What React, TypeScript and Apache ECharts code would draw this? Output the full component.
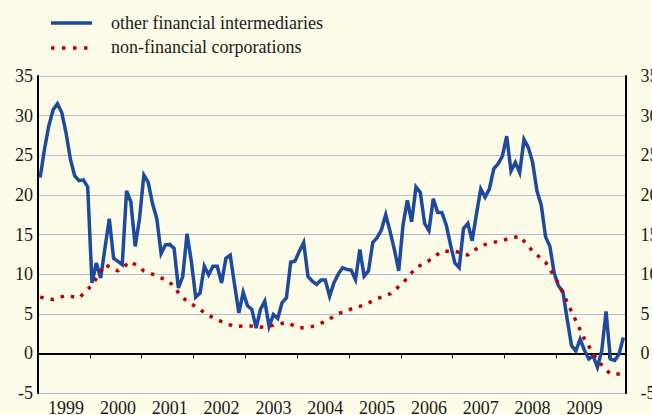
import React, { useEffect, useRef } from "react";
import * as echarts from "echarts";

// Annual growth rates, percentages; monthly from Jan 1999 to Apr 2010
const years = ["1999", "2000", "2001", "2002", "2003", "2004", "2005", "2006", "2007", "2008", "2009", "2010"];
const monthsInLastYear = 4;

const otherFinancialIntermediaries = [
  22.2, 25.75, 28.7, 30.75, 31.5, 30.4, 27.8, 24.5, 22.4, 21.8, 21.9, 21.0,
  8.9, 11.4, 9.5, 13.25, 17.0, 12.0, 11.6, 11.2, 20.5, 19.1, 13.5, 17.0,
  22.5, 21.6, 18.9, 17.0, 12.6, 13.7, 13.75, 13.25, 8.25, 9.7, 15.1, 11.6,
  7.1, 7.6, 11.0, 9.9, 11.0, 11.0, 8.9, 12.0, 12.4, 8.7, 5.1, 7.7,
  6.0, 5.55, 3.2, 5.55, 6.6, 3.4, 4.9, 4.4, 6.4, 7.0, 11.5, 11.65,
  12.9, 14.0, 9.7, 9.1, 8.7, 9.25, 9.25, 7.2, 8.9, 10.0, 10.8, 10.6,
  10.5, 9.3, 13.1, 9.75, 10.4, 14.0, 14.6, 15.6, 17.5, 15.4, 13.1, 10.4,
  16.2, 19.3, 16.6, 21.0, 20.3, 16.4, 15.5, 19.5, 17.8, 17.75, 16.2, 13.7,
  11.4, 10.8, 15.75, 16.4, 14.2, 17.6, 20.75, 19.7, 20.75, 23.3, 23.9, 24.9,
  27.4, 23.0, 24.1, 22.8, 27.0, 26.0, 24.1, 20.5, 18.7, 14.7, 13.5, 10.1,
  8.5, 7.8, 4.3, 1.0, 0.3, 1.8, 0.4, -0.7, -0.3, -1.75, 0.3, 5.3,
  -0.7, -0.9, -0.1, 2.0,
];

// quarterly readings (every third month starting Jan 1999)
const nonFinancialCorporations = [
  7.1, 6.8, 7.3, 7.0, 8.6, 11.2, 10.4, 11.6, 10.4, 9.8, 9.0, 7.0,
  5.9, 4.8, 4.0, 3.4, 3.5, 3.3, 3.55, 3.9, 3.2, 3.4, 4.0, 5.0,
  5.6, 6.1, 6.9, 7.5, 8.9, 10.8, 11.7, 12.9, 12.9, 12.4, 13.6, 14.0,
  14.4, 14.8, 12.9, 11.5, 8.8, 5.3, 1.8, -0.9, -2.6, -2.6,
];

const yMin = -5;
const yMax = 35;
const yStep = 5;

const seriesNames = ["other financial intermediaries", "non-financial corporations"];

const FONT = '"Liberation Serif", "Times New Roman", serif';
const TEXT = "#1a1a1a";
const BLUE = "#1d4a9e";
const RED = "#c00000";

export default function App() {
  const ref = useRef<HTMLDivElement>(null);

  useEffect(() => {
    document.body.style.margin = "0";
    const months: string[] = [];
    years.forEach((y, yi) => {
      const n = yi === years.length - 1 ? monthsInLastYear : 12;
      for (let m = 1; m <= n; m++) months.push(`${y}-${m < 10 ? "0" + m : m}`);
    });
    const nfcMonthly: (number | null)[] = months.map(() => null);
    nonFinancialCorporations.forEach((v, q) => {
      if (q * 3 < nfcMonthly.length) nfcMonthly[q * 3] = v;
    });

    const chart = echarts.init(ref.current!, null, { renderer: "svg" });
    const yAxisCommon = {
      type: "value",
      min: yMin,
      max: yMax,
      interval: yStep,
      axisTick: { show: false },
      axisLine: { show: true, lineStyle: { color: "#000", width: 2 } },
      axisLabel: { color: TEXT, fontFamily: FONT, fontSize: 18 },
    };
    chart.setOption({
      animation: false,
      backgroundColor: "#fdfce8",
      grid: { left: 38, right: 26.5, top: 76, bottom: 22, containLabel: false, outerBoundsMode: "none" },
      xAxis: {
        type: "category",
        data: months,
        boundaryGap: true,
        axisLine: { show: true, lineStyle: { color: "#000", width: 2 } },
        axisTick: {
          show: true,
          length: 5,
          lineStyle: { color: "#000", width: 1 },
          interval: (idx: number) => idx % 12 === 0,
        },
        axisLabel: {
          show: true,
          color: TEXT,
          fontFamily: FONT,
          fontSize: 18,
          margin: 6,
          interval: (idx: number) => idx % 12 === 6,
          formatter: (v: string) => v.slice(0, 4),
        },
        splitLine: { show: false },
      },
      yAxis: [
        {
          ...yAxisCommon,
          position: "left",
          axisLabel: { ...yAxisCommon.axisLabel, margin: 5 },
          splitLine: { show: true, lineStyle: { color: "#b3bbe0", width: 1.2 } },
        },
        {
          ...yAxisCommon,
          position: "right",
          axisLabel: { ...yAxisCommon.axisLabel, margin: 15 },
          splitLine: { show: false },
        },
      ],
      series: [
        {
          name: seriesNames[0],
          type: "line",
          data: otherFinancialIntermediaries,
          showSymbol: false,
          symbol: "none",
          lineStyle: { color: BLUE, width: 3.5, join: "miter" },
          z: 3,
          markLine: {
            silent: true,
            symbol: "none",
            label: { show: false },
            lineStyle: { color: "#000", width: 1.5, type: "solid" },
            data: [{ yAxis: 0 }],
            z: 1,
          },
        },
        {
          name: seriesNames[1],
          type: "line",
          data: nfcMonthly,
          connectNulls: true,
          showSymbol: false,
          symbol: "none",
          lineStyle: { color: RED, width: 3.5, type: [3.5, 7], cap: "butt" },
          z: 4,
        },
      ],
      graphic: [
        {
          type: "line",
          shape: { x1: 51, y1: 23, x2: 92, y2: 23 },
          style: { stroke: BLUE, lineWidth: 3.5 },
        },
        {
          type: "line",
          shape: { x1: 51, y1: 48, x2: 92, y2: 48 },
          style: { stroke: RED, lineWidth: 3.5, lineDash: [3.5, 7.5] },
        },
        {
          type: "text",
          x: 111,
          y: 23,
          style: { text: seriesNames[0], fill: TEXT, font: `18px ${FONT}`, verticalAlign: "middle" },
        },
        {
          type: "text",
          x: 111,
          y: 47,
          style: { text: seriesNames[1], fill: TEXT, font: `18px ${FONT}`, verticalAlign: "middle" },
        },
      ],
    });
    return () => chart.dispose();
  }, []);

  return <div ref={ref} style={{ width: 652, height: 415 }} />;
}
